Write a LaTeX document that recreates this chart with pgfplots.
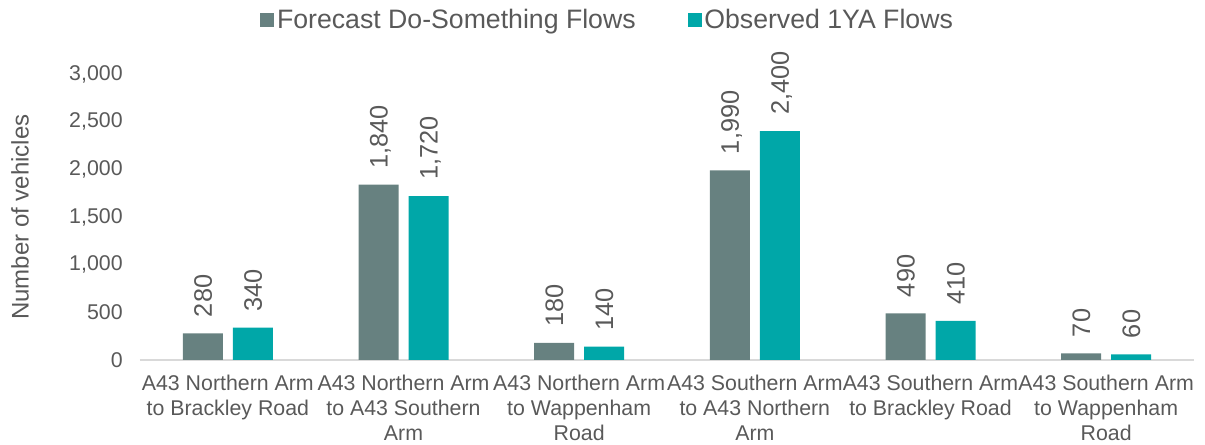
\documentclass[border=0pt]{standalone}
\usepackage{pgfplots}
\pgfplotsset{compat=1.18}
\usepackage{fontspec}
\setmainfont{Liberation Sans}
\definecolor{fcgray}{HTML}{678180}
\definecolor{obteal}{HTML}{00A7A8}
\definecolor{txt}{HTML}{595959}
\definecolor{axl}{HTML}{D9D9D9}
\newcommand\fs{\fontsize{16pt}{18.75pt}\selectfont}
\begin{document}
\begin{tikzpicture}[x=1pt,y=1pt]
\useasboundingbox (-105,-63.75) rectangle (798.75,270);
\begin{axis}[
  at={(0,0)}, anchor=south west,
  scale only axis, width=790.5pt, height=214.5pt,
  ybar=7.5pt, bar width=30pt,
  xmin=-0.5, xmax=5.5, ymin=0, ymax=3000,
  xtick=data,
  xticklabels={{A43 Northern Arm\\to Brackley Road},{A43 Northern Arm\\to A43 Southern\\Arm},{A43 Northern Arm\\to Wappenham\\Road},{A43 Southern Arm\\to A43 Northern\\Arm},{A43 Southern Arm\\to Brackley Road},{A43 Southern Arm\\to Wappenham\\Road}},
  x tick label style={align=center, font=\fs, text=txt, yshift=-7.5pt},
  ytick={0,500,...,3000},
  y tick label style={font=\fs, text=txt, xshift=-9.5pt},
  /pgf/number format/assume math mode=true,
  /pgf/number format/1000 sep={,},
  major tick length=0pt,
  axis x line*=bottom, axis y line*=left,
  x axis line style={draw=axl, line width=1pt},
  y axis line style={draw=none},
  every axis y label/.style={at={(-105pt+15pt,107.25pt)}, rotate=90, anchor=center, font=\fontsize{18pt}{20pt}\selectfont, text=txt},
  ylabel={Number of vehicles},
  clip=false,
  nodes near coords,
  nodes near coords style={rotate=90, anchor=west, font=\fontsize{19pt}{20pt}\selectfont, text=txt, inner xsep=12pt, text height=13.6pt, text depth=0pt,
     /pgf/number format/1000 sep={,}, /pgf/number format/assume math mode=true},
  legend style={at={(0.444,1.19)}, anchor=center, draw=none, fill=none, font=\fontsize{20pt}{22pt}\selectfont, text=txt, legend columns=-1,
     /tikz/every even column/.append style={column sep=37pt}},
  legend image code/.code={\fill[#1] (0pt,-5.25pt) rectangle (10.5pt,5.25pt);},
]
\addplot[fill=fcgray, draw=none] coordinates {(0,280) (1,1840) (2,180) (3,1990) (4,490) (5,70)};
\addplot[fill=obteal, draw=none] coordinates {(0,340) (1,1720) (2,140) (3,2400) (4,410) (5,60)};
\legend{Forecast Do-Something Flows, Observed 1YA Flows}
\end{axis}
\end{tikzpicture}
\end{document}
